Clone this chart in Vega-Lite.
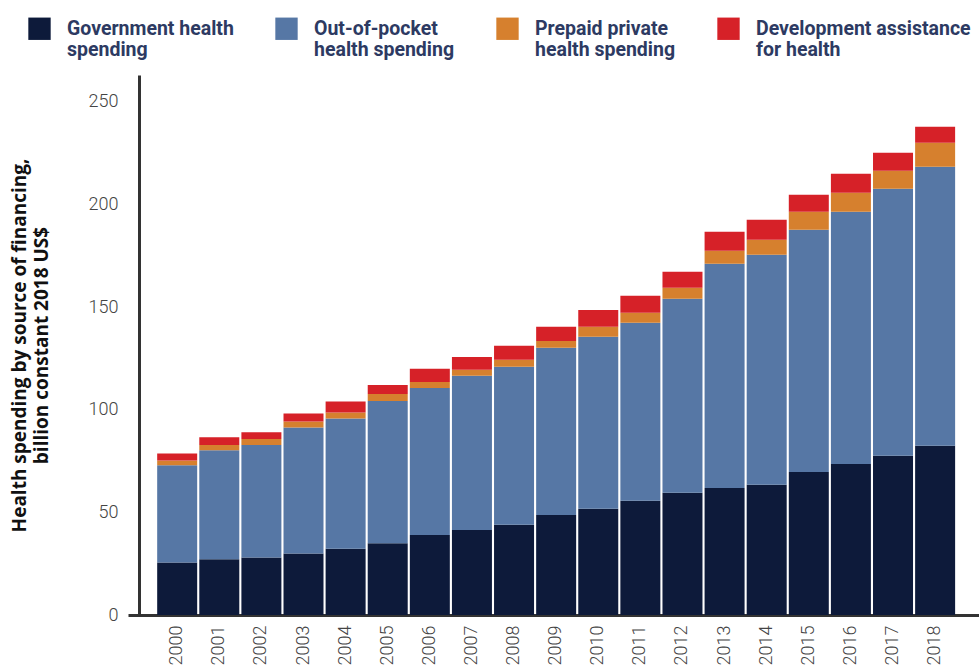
{
  "$schema": "https://vega.github.io/schema/vega-lite/v6.json",
  "autosize": "none",
  "width": 851,
  "height": 540,
  "padding": {"left": 128, "top": 75, "right": 0, "bottom": 53},
  "background": "white",
  "config": {"view": {"stroke": null}, "font": "Roboto"},
  "datasets": {
    "wide": [
      {"year": "2000", "gov": 25.6, "oop": 47.3, "pre": 2.4, "dah": 3.4},
      {"year": "2001", "gov": 27.2, "oop": 53.1, "pre": 2.5, "dah": 3.8},
      {"year": "2002", "gov": 28.0, "oop": 54.8, "pre": 2.9, "dah": 3.3},
      {"year": "2003", "gov": 29.9, "oop": 61.4, "pre": 2.9, "dah": 3.9},
      {"year": "2004", "gov": 32.3, "oop": 63.4, "pre": 2.9, "dah": 5.4},
      {"year": "2005", "gov": 35.0, "oop": 69.2, "pre": 3.4, "dah": 4.4},
      {"year": "2006", "gov": 39.0, "oop": 71.6, "pre": 2.9, "dah": 6.4},
      {"year": "2007", "gov": 41.4, "oop": 75.1, "pre": 2.9, "dah": 6.3},
      {"year": "2008", "gov": 43.9, "oop": 77.0, "pre": 3.4, "dah": 6.8},
      {"year": "2009", "gov": 48.7, "oop": 81.4, "pre": 3.4, "dah": 6.9},
      {"year": "2010", "gov": 51.7, "oop": 83.8, "pre": 4.9, "dah": 8.2},
      {"year": "2011", "gov": 55.6, "oop": 86.7, "pre": 4.9, "dah": 8.3},
      {"year": "2012", "gov": 59.5, "oop": 94.5, "pre": 5.4, "dah": 7.8},
      {"year": "2013", "gov": 61.9, "oop": 109.2, "pre": 6.3, "dah": 9.2},
      {"year": "2014", "gov": 63.4, "oop": 112.0, "pre": 7.3, "dah": 9.8},
      {"year": "2015", "gov": 69.7, "oop": 117.9, "pre": 8.8, "dah": 8.3},
      {"year": "2016", "gov": 73.6, "oop": 122.8, "pre": 9.3, "dah": 9.2},
      {"year": "2017", "gov": 77.5, "oop": 130.1, "pre": 8.8, "dah": 8.7},
      {"year": "2018", "gov": 82.4, "oop": 135.9, "pre": 11.7, "dah": 7.8}
    ]
  },
  "data": {"name": "wide"},
  "transform": [
    {"fold": ["gov", "oop", "pre", "dah"], "as": ["key", "value"]},
    {"lookup": "key", "from": {"data": {"values": [
      {"key": "gov", "source": "Government health|spending", "k": 1},
      {"key": "oop", "source": "Out-of-pocket|health spending", "k": 2},
      {"key": "pre", "source": "Prepaid private|health spending", "k": 3},
      {"key": "dah", "source": "Development assistance|for health", "k": 4}
    ]}, "key": "key", "fields": ["source", "k"]}}
  ],
  "mark": {"type": "bar"},
  "encoding": {
    "x": {
      "field": "year", "type": "ordinal",
      "scale": {"paddingInner": 0.05, "paddingOuter": 0.63, "align": 0.55},
      "axis": {
        "title": null, "labelAngle": -90, "ticks": false, "labelPadding": 10,
        "labelFontSize": 18, "labelColor": "#444", "labelFont": "Roboto", "labelFontWeight": 300,
        "domainColor": "#333", "domainWidth": 3
      }
    },
    "y": {
      "field": "value", "type": "quantitative", "stack": "zero",
      "scale": {"domain": [0, 263], "nice": false},
      "axis": {
        "values": [0, 50, 100, 150, 200, 250], "grid": false, "ticks": false,
        "offset": -11, "labelPadding": 21, "labelFontSize": 18, "labelColor": "#444",
        "labelFontWeight": 300, "domainColor": "#333", "domainWidth": 3,
        "title": ["Health spending by source of financing,", "billion constant 2018 US$"],
        "titleFont": "Open Sans",
        "titleFontSize": 19, "titleFontWeight": "bold", "titleColor": "#111", "titleLineHeight": 22,
        "titlePadding": 37
      }
    },
    "color": {
      "field": "source", "type": "nominal",
      "scale": {
        "domain": ["Government health|spending", "Out-of-pocket|health spending", "Prepaid private|health spending", "Development assistance|for health"],
        "range": ["#0d1a3a", "#5677a5", "#d6802e", "#d62128"]
      },
      "legend": {
        "orient": "none", "legendX": -100, "legendY": -58, "direction": "horizontal", "columns": 4,
        "title": null, "symbolType": "square", "symbolSize": 500, "symbolStrokeWidth": 0,
        "labelExpr": "split(datum.label, '|')", "labelFontSize": 19.5, "labelFontWeight": "bold",
        "labelColor": "#2d3a62", "labelOffset": 16, "labelLimit": 400, "columnPadding": 41,
        "labelBaseline": "middle", "labelLineHeight": 21
      }
    },
    "order": {"field": "k", "type": "quantitative", "sort": "ascending"}
  }
}
